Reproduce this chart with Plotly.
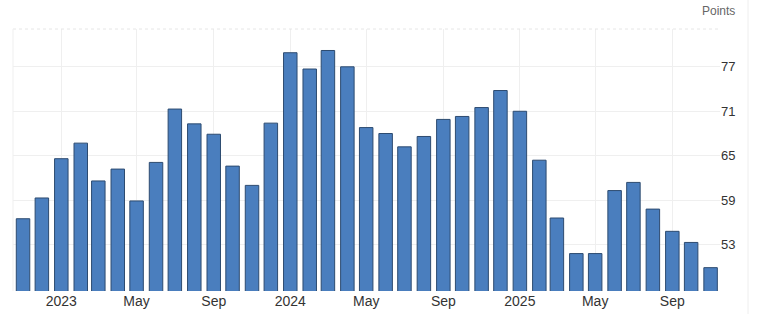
import plotly.graph_objects as go
import pandas as pd

months = pd.date_range("2022-11-01", "2025-11-01", freq="MS").strftime("%Y-%m-%d").tolist()
values = [56.5, 59.3, 64.6, 66.7, 61.6, 63.2, 58.9, 64.1, 71.3, 69.3, 67.9, 63.6, 61.0,
          69.4, 78.9, 76.7, 79.2, 77.0, 68.8, 68.0, 66.2, 67.6, 69.9, 70.3, 71.5, 73.8,
          71.0, 64.4, 56.6, 51.8, 51.8, 60.3, 61.4, 57.8, 54.8, 53.3, 49.9]

x_tickvals = ["2023-01-01", "2023-05-01", "2023-09-01", "2024-01-01", "2024-05-01",
              "2024-09-01", "2025-01-01", "2025-05-01", "2025-09-01"]
x_ticktext = ["2023", "May", "Sep", "2024", "May", "Sep", "2025", "May", "Sep"]
y_tickvals = [53, 59, 65, 71, 77]

fig = go.Figure()
fig.add_trace(go.Bar(
    x=months, y=values,
    width=21.5 * 86400000,
    marker=dict(color="#4a7ebe", line=dict(color="#2d4b70", width=1)),
))

fig.update_layout(
    width=760, height=314,
    margin=dict(l=13, r=40, t=29, b=23, autoexpand=False),
    paper_bgcolor="white", plot_bgcolor="white",
    showlegend=False,
    font=dict(family="Liberation Sans, Arial, sans-serif", color="#333333"),
    xaxis=dict(
        type="date",
        automargin=False,
        range=["2022-10-16", "2025-11-16"],
        tickvals=x_tickvals, ticktext=x_ticktext,
        tickfont=dict(size=14, color="#333333"),
        showgrid=True, gridcolor="#efefef", gridwidth=1,
        zeroline=False, showline=False, ticks="",
    ),
    yaxis=dict(
        automargin=False,
        range=[46.75, 82.1],
        side="right",
        tickvals=y_tickvals,
        tickfont=dict(size=13, color="#333333"),
        showgrid=True, gridcolor="#efefef", gridwidth=1,
        zeroline=False, showline=False, ticks="",
    ),
    annotations=[dict(
        text="Points", xref="paper", yref="paper",
        x=1.0 + 17 / 707, y=1.0 + 18 / 262, xanchor="right", yanchor="middle",
        showarrow=False, font=dict(size=12, color="#666666"),
    )],
    shapes=[
        dict(type="line", xref="paper", yref="paper", x0=0, x1=1, y0=1, y1=1,
             line=dict(color="#e6e6e6", width=1, dash="dot")),
        dict(type="line", xref="paper", yref="paper", x0=0, x1=0, y0=0, y1=1,
             line=dict(color="#efefef", width=1)),
        dict(type="line", xref="paper", yref="paper", x0=1 + 28 / 707, x1=1 + 28 / 707,
             y0=-23 / 262, y1=1 + 29 / 262,
             line=dict(color="#eeeeee", width=1)),
    ],
)

fig.write_html("out.html")
